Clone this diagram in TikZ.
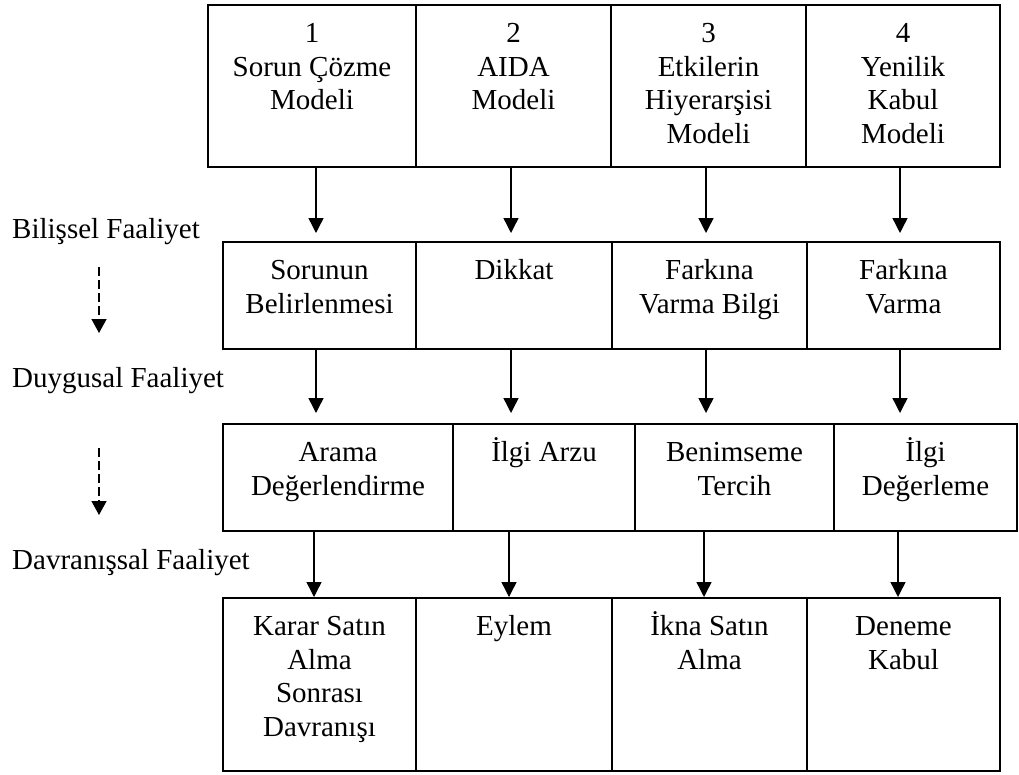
\documentclass[tikz,border=0pt]{standalone}
\usepackage{fontspec}
\setmainfont{Liberation Serif}
\usetikzlibrary{arrows.meta}

% one table cell: name, left, top, right, bottom, text (lines split by \\)
\newcommand\tcell[6]{%
  \node[cell, minimum width={(#4-#2)*1pt}, minimum height={(#5-#3)*1pt}] (#1) at (#2,#3) {};
  \node[celltext] (#1-text) at ([yshift=-37.5pt]#1.north) {\parbox[t]{240pt}{\centering #6}};
}

\begin{document}
\begin{tikzpicture}[x=1pt,y=-1pt,
  cell/.style={draw=black, line width=1.6pt, rectangle, inner sep=0pt, outer sep=0pt, anchor=north west},
  celltext/.style={anchor=base, inner sep=0pt, font=\fontsize{29}{33.5}\selectfont},
  flow/.style={line width=1.4pt, -{Triangle[width=15pt,length=15pt]}},
  hint/.style={line width=1.3pt, dash pattern=on 9pt off 4pt, -{Triangle[width=15pt,length=14pt]}},
  side/.style={anchor=base west, inner sep=0pt, font=\fontsize{29}{33.5}\selectfont}
]
\useasboundingbox (0,0) rectangle (1019,774);

% row 1: the four models
\tcell{m1}{208}{5}{416}{167}{1\\Sorun Çözme\\Modeli}
\tcell{m2}{416}{5}{611}{167}{2\\AIDA\\Modeli}
\tcell{m3}{611}{5}{806}{167}{3\\Etkilerin\\Hiyerarşisi\\Modeli}
\tcell{m4}{806}{5}{1000}{167}{4\\Yenilik\\Kabul\\Modeli}

% row 2: cognitive stage
\tcell{b1}{223}{242}{416}{349}{Sorunun\\Belirlenmesi}
\tcell{b2}{416}{242}{612}{349}{Dikkat}
\tcell{b3}{612}{242}{807}{349}{Farkına\\Varma Bilgi}
\tcell{b4}{807}{242}{1000}{349}{Farkına\\Varma}

% row 3: affective stage
\tcell{d1}{223}{424}{453}{531}{Arama\\Değerlendirme}
\tcell{d2}{453}{424}{635}{531}{İlgi Arzu}
\tcell{d3}{635}{424}{834}{531}{Benimseme\\Tercih}
\tcell{d4}{834}{424}{1017}{531}{İlgi\\Değerleme}

% row 4: behavioural stage
\tcell{v1}{223}{598}{416}{771}{Karar Satın\\Alma\\Sonrası\\Davranışı}
\tcell{v2}{416}{598}{612}{771}{Eylem}
\tcell{v3}{612}{598}{807}{771}{İkna Satın\\Alma}
\tcell{v4}{807}{598}{1000}{771}{Deneme\\Kabul}

% column positions of the connectors
\coordinate (x1) at (316,0);
\coordinate (x2) at (511,0);
\coordinate (x3) at (706,0);
\coordinate (x4) at (900,0);
\coordinate (y1) at (314,0);
\coordinate (y2) at (509,0);
\coordinate (y3) at (704,0);
\coordinate (y4) at (898,0);

\foreach \i in {1,...,4}{
  \draw[flow, shorten >=9pt] (m\i.south -| x\i) -- (b\i.north -| x\i);
  \draw[flow, shorten >=11pt] (b\i.south -| x\i) -- (d\i.north -| x\i);
  \draw[flow, shorten >=1pt] (d\i.south -| y\i) -- (v\i.north -| y\i);
}

% stage labels on the left
\node[side] (s1) at (12,238) {Bilişsel Faaliyet};
\node[side] (s2) at (12,387) {Duygusal Faaliyet};
\node[side] (s3) at (12,569) {Davranışsal Faaliyet};

\coordinate (h1a) at (99,267);
\coordinate (h1b) at (99,333);
\coordinate (h2a) at (99,448);
\coordinate (h2b) at (99,515);
\draw[hint] (h1a) -- (h1b);
\draw[hint] (h2a) -- (h2b);
\end{tikzpicture}
\end{document}
